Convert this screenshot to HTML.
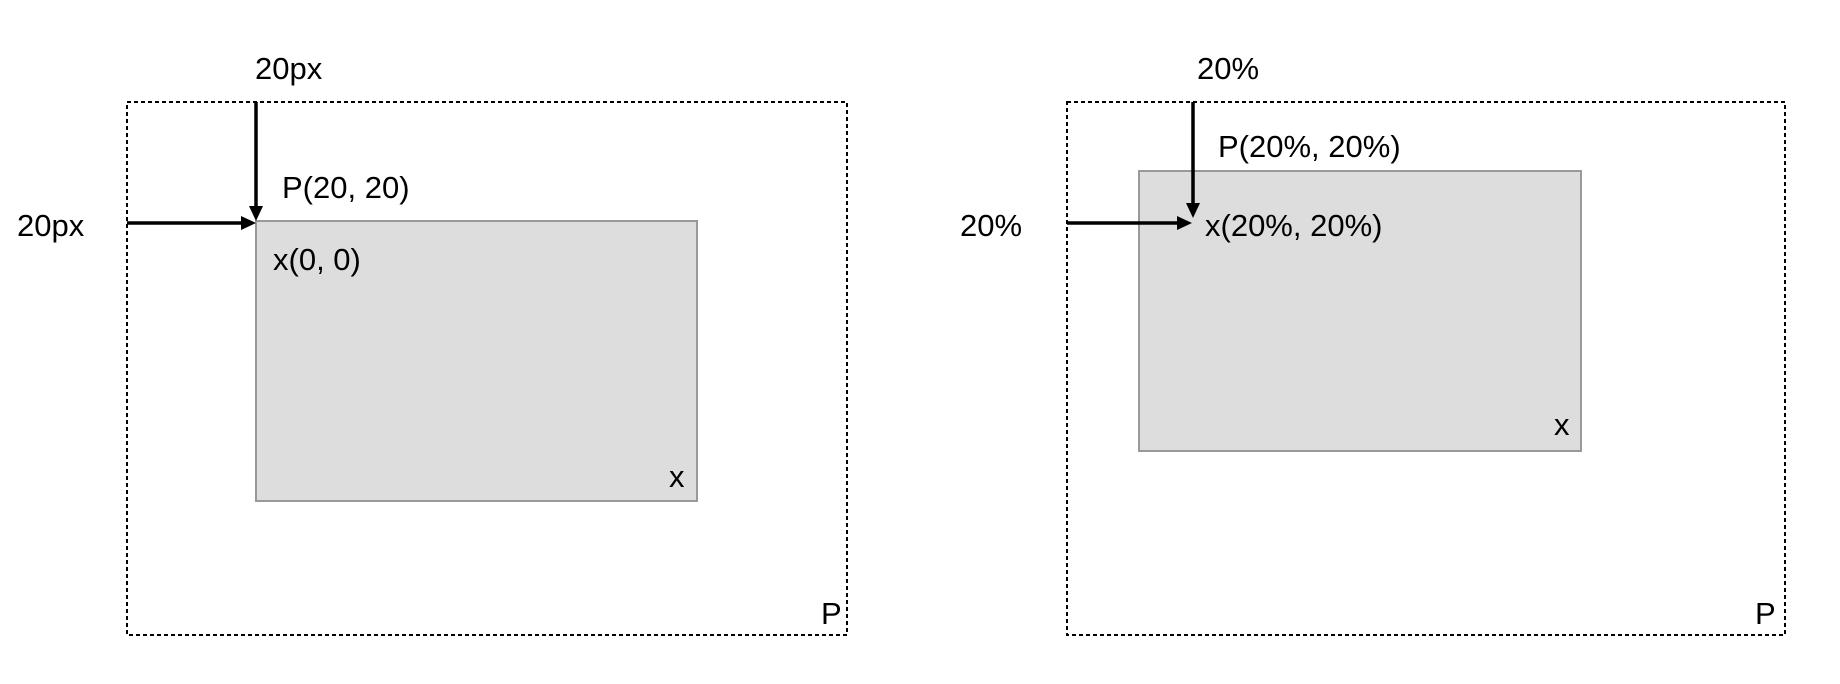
<!DOCTYPE html>
<html><head><meta charset="utf-8"><style>
html,body{margin:0;padding:0;background:#fff;}
svg{display:block}
text{font-family:"Liberation Sans",Arial,sans-serif;font-size:31px;fill:#000}
</style></head><body>
<svg width="1840" height="684" viewBox="0 0 1840 684">
<g>
<rect x="127" y="102" width="720" height="533" fill="none" stroke="#000" stroke-width="2" stroke-dasharray="4,3"/>
<rect x="256" y="221" width="441" height="280" fill="#dddddd" stroke="#999" stroke-width="2"/>
<line x1="256" y1="102" x2="256" y2="208" stroke="#000" stroke-width="3.5"/>
<polygon points="249,206 263,206 256,221" fill="#000"/>
<line x1="127" y1="223" x2="243" y2="223" stroke="#000" stroke-width="3.5"/>
<polygon points="241,216 241,230 256,223" fill="#000"/>
<text x="255" y="79">20px</text>
<text x="17" y="236">20px</text>
<text x="282" y="198">P(20, 20)</text>
<text x="273" y="270">x(0, 0)</text>
<text x="669" y="487">x</text>
<text x="821" y="624">P</text>
</g>
<g>
<rect x="1067" y="102" width="718" height="533" fill="none" stroke="#000" stroke-width="2" stroke-dasharray="4,3"/>
<rect x="1139" y="171" width="442" height="280" fill="#dddddd" stroke="#999" stroke-width="2"/>
<line x1="1193" y1="102" x2="1193" y2="205" stroke="#000" stroke-width="3.5"/>
<polygon points="1186,203 1200,203 1193,218" fill="#000"/>
<line x1="1067" y1="223" x2="1179" y2="223" stroke="#000" stroke-width="3.5"/>
<polygon points="1177,216 1177,230 1192,223" fill="#000"/>
<text x="1197" y="79">20%</text>
<text x="960" y="236">20%</text>
<text x="1218" y="157">P(20%, 20%)</text>
<text x="1205" y="236">x(20%, 20%)</text>
<text x="1554" y="435">x</text>
<text x="1755" y="624">P</text>
</g>
</svg>
</body></html>
